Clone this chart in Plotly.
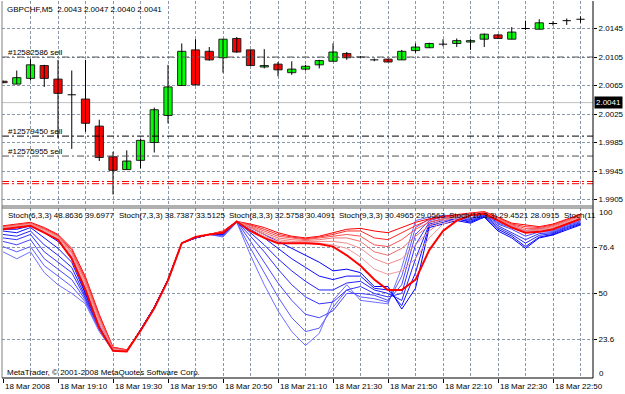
import plotly.graph_objects as go

# ---------------- data ----------------
BARS = list(range(43))
OPEN = [2.0071, 2.0067, 2.0075, 2.0093, 2.0074, 2.0052, 2.0046, 2.0008, 1.9965, 1.9947,
        1.9960, 1.9985, 2.0023, 2.0065, 2.0115, 2.0113, 2.0104, 2.0131, 2.0115, 2.0091,
        2.0095, 2.0083, 2.0088, 2.0094, 2.0099, 2.0110, 2.0105, 2.0101, 2.0102, 2.0101,
        2.0114, 2.0118, 2.0123, 2.0124, 2.0126, 2.0130, 2.0136, 2.0130, 2.0145, 2.0144,
        2.0152, 2.0156, 2.0158]
HIGH = [2.0072, 2.0086, 2.0102, 2.0094, 2.0101, 2.0086, 2.0101, 2.0017, 1.9972, 1.9974,
        1.9990, 2.0034, 2.0094, 2.0124, 2.0130, 2.0119, 2.0130, 2.0133, 2.0115, 2.0116,
        2.0098, 2.0099, 2.0094, 2.0101, 2.0124, 2.0112, 2.0106, 2.0103, 2.0102, 2.0115,
        2.0124, 2.0125, 2.0130, 2.0131, 2.0130, 2.0138, 2.0137, 2.0147, 2.0156, 2.0158,
        2.0155, 2.0159, 2.0162]
LOW = [2.0068, 2.0067, 2.0072, 2.0063, 1.9991, 1.9976, 2.0000, 1.9959, 1.9912, 1.9947,
       1.9949, 1.9971, 2.0012, 2.0065, 2.0065, 2.0100, 2.0083, 2.0111, 2.0093, 2.0089,
       2.0078, 2.0080, 2.0086, 2.0089, 2.0099, 2.0101, 2.0104, 2.0099, 2.0098, 2.0101,
       2.0111, 2.0118, 2.0120, 2.0119, 2.0115, 2.0119, 2.0131, 2.0130, 2.0143, 2.0144,
       2.0149, 2.0150, 2.0153]
CLOSE = [2.0069, 2.0076, 2.0094, 2.0075, 2.0054, 2.0052, 2.0012, 1.9964, 1.9946, 1.9959,
         1.9988, 2.0031, 2.0063, 2.0113, 2.0066, 2.0101, 2.0130, 2.0112, 2.0093, 2.0093,
         2.0087, 2.0088, 2.0092, 2.0100, 2.0112, 2.0104, 2.0105, 2.0101, 2.0098, 2.0113,
         2.0119, 2.0124, 2.0123, 2.0128, 2.0128, 2.0137, 2.0131, 2.0140, 2.0145, 2.0153,
         2.0152, 2.0156, 2.0158]

TIME_TICK_BARS = [0, 4, 8, 12, 16, 20, 24, 28, 32, 36, 40]
TIME_LABELS = ["18 Mar 2008", "18 Mar 19:10", "18 Mar 19:30", "18 Mar 19:50", "18 Mar 20:50",
               "18 Mar 21:10", "18 Mar 21:30", "18 Mar 21:50", "18 Mar 22:10", "18 Mar 22:30",
               "18 Mar 22:50"]
GRID_BARS = list(range(0, 43, 2))

PRICE_TICKS = [2.0145, 2.0105, 2.0065, 2.0025, 1.9985, 1.9945, 1.9905]
PRICE_RANGE = [1.98959, 2.01836]
BID = 2.0041
ORDER_LEVELS = [2.0105, 1.9994, 1.9966]
ORDER_LABELS = ["#12582586 sell", "#12579450 sell", "#12575955 sell"]
ORDER_COLORS = ["#606060", "#000000", "#505050"]
STOP_LEVELS = [1.99303, 1.99272]

TITLE = "GBPCHF,M5\u00a0 2.0043 2.0047 2.0040 2.0041"
STOCH_TITLES = ["Stoch(6,3,3) 48.8636 39.6977", "Stoch(7,3,3) 38.7387 33.5125",
                "Stoch(8,3,3) 32.5758 30.4091", "Stoch(9,3,3) 30.4965 29.0563",
                "Stoch(10,3,3) 29.4521 28.0915", "Stoch(11"]
STOCH_TICKS = [23.6, 50, 76.4]
STOCH_RANGE = [1.27, 99.25]
COPYRIGHT = "MetaTrader, \u00a9 2001-2008 MetaQuotes Software Corp."

# stochastic lines (blue fan: fast -> slow)
BLUE_1 = [74, 70, 74, 62, 55, 50, 44, 28, 17, 16.5, 29, 42, 58, 79, 82, 84, 82.5, 91, 72, 55, 40, 28, 20, 27, 46, 55, 46, 45, 44, 65, 92, 94, 95, 95, 93.5, 97, 91, 89, 86, 87.5, 86.5, 90.4, 92.3]
BLUE_2 = [77, 74, 77, 66, 60, 54, 45, 29, 17, 16.5, 29, 42, 58, 79, 82, 84, 83, 91, 76, 62, 48, 36, 28, 30, 42, 52, 48, 47, 45, 60, 88, 93, 94, 95, 93, 96.5, 90.5, 88, 85, 86.5, 86, 89.8, 91.8]
BLUE_3 = [80, 78, 81, 70, 64, 58, 46, 30, 17.5, 16.5, 29, 42, 58, 79, 82, 84, 83.5, 91.5, 80, 68, 56, 46, 38, 36, 40, 50, 50, 49, 46, 55, 84, 92, 94, 94, 92.5, 96, 90, 87, 83, 85.5, 85.5, 89.2, 91.3]
BLUE_4 = [82, 81, 84, 74, 68, 62, 47, 30, 17.5, 17, 29, 42, 58, 79, 82, 84, 84, 91.5, 83, 74, 64, 55, 48, 44, 45, 52, 54, 50, 48, 50, 78, 91, 93, 94, 92, 95.5, 89, 85, 81, 84.5, 85, 88.5, 90.8]
BLUE_5 = [84, 83, 86, 78, 72, 65, 48, 31, 18, 17, 29, 42, 58, 79, 82, 84, 84, 91.5, 85, 78, 70, 63, 57, 52, 52, 56, 57, 52, 50, 46, 70, 90, 92, 93, 91.5, 95, 88, 84, 79, 83.5, 84.5, 88, 90.3]
BLUE_6 = [86, 85, 88, 82, 76, 68, 49, 31, 18, 17, 29, 42, 58, 79, 82, 84, 84.5, 91.5, 87, 82, 76, 70, 65, 60, 58, 60, 60, 53, 52, 43, 62, 89, 91, 93, 91, 94.5, 87, 83, 77, 82.5, 84, 87.3, 89.9]
BLUE_7 = [87, 87, 89, 85, 80, 71, 50, 32, 18, 17, 29, 42, 58, 79, 82, 84, 84.5, 91.5, 88, 84, 80, 76, 72, 68, 63, 64, 62, 54, 54, 41, 53, 88, 90, 92, 90.5, 94, 86, 82, 76, 82, 83.7, 86.6, 89.5]
# red fan (thick lowest -> highest)
RED_1 = [87, 88, 89, 85, 81, 70, 52, 30, 17, 16.5, 28.5, 41.5, 57.5, 79, 82.5, 84, 85, 91.5, 86, 82, 79, 79, 79, 78.5, 77, 72, 66, 58, 52, 52, 58, 75, 86, 92, 95, 96, 92, 88, 85, 85.5, 87, 90, 93]
RED_2 = [87.5, 88.5, 89.5, 86, 82, 71.5, 53.5, 32, 17.5, 16.5, 28.5, 41.5, 57.5, 79, 82.5, 84, 85, 91.5, 87, 83, 80, 79.5, 79.5, 79, 78, 76, 71, 64, 61, 63, 70, 82, 90, 93, 95.2, 96.2, 92.3, 88.3, 85.5, 86, 87.5, 90.5, 93.5]
RED_3 = [88, 89, 90, 86.5, 82.5, 72.5, 55, 33.5, 18, 17, 28.5, 41.5, 57.5, 79, 82.5, 84, 85.2, 91.5, 88, 84, 81, 80, 80, 80, 80, 79, 76, 70, 67, 70, 78, 86, 92, 94, 95.4, 96.4, 92.6, 88.7, 86, 86.5, 88, 91, 94]
RED_4 = [88, 89, 90, 87, 83, 73.5, 56.5, 35, 18, 17, 28.5, 41.5, 57.5, 79, 82.5, 84, 85.4, 91.5, 88.5, 85, 82, 81, 80.5, 81, 82, 82, 80, 74, 72, 76, 83, 89, 93, 94, 95.6, 96.6, 93, 89.2, 86.5, 87, 88.5, 91.5, 94.5]
RED_5 = [88.5, 89.5, 90.5, 87, 83, 74, 57.5, 36, 18.5, 17, 28.5, 41.5, 57.5, 79, 82.5, 84, 85.6, 91.5, 89, 86, 83, 82, 81, 82, 83, 84, 83, 78, 77, 81, 87, 91, 93, 95, 95.8, 96.8, 93.4, 89.6, 87.5, 87.5, 89, 92, 95]
RED_6 = [88.5, 89.5, 90.5, 87.5, 83.5, 75, 58.5, 37, 19, 17.5, 28.5, 41.5, 57.5, 79, 82.5, 84, 85.8, 91.5, 89.5, 87, 84, 82.5, 81.5, 82.5, 84, 86, 86, 82, 81, 85, 89, 92.5, 94, 95, 96, 97, 93.7, 90, 88.5, 88, 89.5, 92.5, 95.3]
RED_7 = [89, 90, 91, 88, 84, 76, 59.5, 38, 19, 17.5, 28.5, 41.5, 57.5, 79, 82.5, 84, 86, 91.5, 90, 88, 85, 83, 82, 83, 85, 87, 87.5, 86, 85, 88, 91, 93, 94.5, 95.5, 96.2, 97.2, 94, 90.5, 89.5, 88.5, 90, 93, 95.6]

BLUES = [BLUE_1, BLUE_2, BLUE_3, BLUE_4, BLUE_5, BLUE_6, BLUE_7]
REDS = [RED_1, RED_2, RED_3, RED_4, RED_5, RED_6, RED_7]

# ---------------- style ----------------
W, H = 625, 394
ML, MR, MT, MB = 2, 32, 1, 16
PW, PH = W - ML - MR, H - MT - MB
FONT = "Liberation Sans, Arial, sans-serif"
GRID = "#8a97a8"
GRID_DASH = "3px,2px"
BLUE_COLORS = ["#7070ff", "#5a5aff", "#4646ff", "#3232ff", "#2020ff", "#1010ff", "#0000ff"]
RED_COLORS = ["#ff0000", "#f49a9a", "#f08a8a", "#f07070", "#ff5050", "#ff2828", "#ff0000"]
RED_WIDTHS = [2, 1, 1, 1, 1, 1, 1]


def px(x):
    return (x - ML) / PW


def py(y):
    return (H - MB - y) / PH


TOP_DOM = [py(206), 1]
BOT_DOM = [0, py(208)]

fig = go.Figure()

# wicks
wx, wy = [], []
for i in BARS:
    wx += [i, i, None]
    wy += [LOW[i], HIGH[i], None]
fig.add_trace(go.Scatter(x=wx, y=wy, mode="lines", line=dict(color="#000000", width=1),
                         xaxis="x2", yaxis="y", hoverinfo="skip", showlegend=False))

# bodies
for up, col in [(True, "#00ff00"), (False, "#ff0000")]:
    xs, bs, hs = [], [], []
    for i in BARS:
        if OPEN[i] == CLOSE[i]:
            continue
        if (CLOSE[i] > OPEN[i]) == up:
            xs.append(i)
            bs.append(min(OPEN[i], CLOSE[i]))
            hs.append(abs(CLOSE[i] - OPEN[i]))
    fig.add_trace(go.Bar(x=xs, y=hs, base=bs, width=0.6, marker=dict(color=col, line=dict(color="#202020", width=1)),
                         xaxis="x2", yaxis="y", hoverinfo="skip", showlegend=False))

# doji crosses
dx, dy = [], []
for i in BARS:
    if OPEN[i] == CLOSE[i]:
        dx += [i - 0.3, i + 0.3, None]
        dy += [OPEN[i], OPEN[i], None]
fig.add_trace(go.Scatter(x=dx, y=dy, mode="lines", line=dict(color="#000000", width=1),
                         xaxis="x2", yaxis="y", hoverinfo="skip", showlegend=False))

# stochastic lines
for vals, c in zip(BLUES, BLUE_COLORS):
    fig.add_trace(go.Scatter(x=BARS, y=vals, mode="lines", line=dict(color=c, width=1),
                             xaxis="x", yaxis="y2", hoverinfo="skip", showlegend=False))
for vals, c, w in list(zip(REDS, RED_COLORS, RED_WIDTHS))[::-1]:
    fig.add_trace(go.Scatter(x=BARS, y=vals, mode="lines", line=dict(color=c, width=w),
                             xaxis="x", yaxis="y2", hoverinfo="skip", showlegend=False))

shapes = []
# bid line
shapes.append(dict(type="line", xref="paper", yref="y", x0=0, x1=1, y0=BID, y1=BID,
                   line=dict(color="#c0c0c0", width=1), layer="below"))
# order lines
for lvl, c in zip(ORDER_LEVELS, ORDER_COLORS):
    shapes.append(dict(type="line", xref="paper", yref="y", x0=0, x1=1, y0=lvl, y1=lvl,
                       line=dict(color=c, width=1, dash="7px,3px,2px,3px")))
for lvl in STOP_LEVELS:
    shapes.append(dict(type="line", xref="paper", yref="y", x0=0, x1=1, y0=lvl, y1=lvl,
                       line=dict(color="#ff0000", width=1, dash="7px,3px,2px,3px")))
# frame
shapes += [
    dict(type="line", xref="paper", yref="paper", x0=0, x1=0, y0=0, y1=1, line=dict(color="#808080", width=1)),
    dict(type="line", xref="paper", yref="paper", x0=1, x1=1, y0=0, y1=1, line=dict(color="#000000", width=1)),
    dict(type="line", xref="paper", yref="paper", x0=0, x1=1, y0=TOP_DOM[0], y1=TOP_DOM[0], line=dict(color="#606060", width=1)),
    dict(type="line", xref="paper", yref="paper", x0=0, x1=1, y0=BOT_DOM[1], y1=BOT_DOM[1], line=dict(color="#606060", width=1)),
    dict(type="line", xref="paper", yref="paper", x0=0, x1=1, y0=0, y1=0, line=dict(color="#000000", width=1)),
]

ann = []
f8 = dict(family=FONT, size=8, color="#000000")
ann.append(dict(text=TITLE, xref="paper", yref="paper", x=px(5), y=py(9), xanchor="left", yanchor="middle",
                showarrow=False, font=f8))
for lvl, lab in zip(ORDER_LEVELS, ORDER_LABELS):
    ann.append(dict(text=lab, xref="paper", yref="y", x=px(7), y=lvl, xanchor="left", yanchor="bottom",
                    yshift=-1, showarrow=False, font=f8, borderpad=0))
ann.append(dict(text=f"{BID:.4f}", xref="paper", yref="y", x=1, y=BID, xanchor="left", yanchor="middle",
                xshift=1, showarrow=False, bgcolor="#000000", borderpad=1,
                font=dict(family=FONT, size=8, color="#ffffff")))
stoch_x = [6, 116.7, 226.7, 336.7, 446.7, 561.7]
for t, x in zip(STOCH_TITLES, stoch_x):
    ann.append(dict(text=t, xref="paper", yref="paper", x=px(x), y=py(215), xanchor="left", yanchor="middle",
                    showarrow=False, font=f8))
ann.append(dict(text=COPYRIGHT, xref="paper", yref="paper", x=px(5), y=py(372.5), xanchor="left",
                yanchor="middle", showarrow=False, font=f8))
ann.append(dict(text="100", xref="paper", yref="paper", x=px(597), y=py(212), xanchor="left",
                yanchor="middle", showarrow=False, font=f8))
ann.append(dict(text="0", xref="paper", yref="paper", x=px(597), y=py(373.3), xanchor="left",
                yanchor="middle", showarrow=False, font=f8))
for b, lab in zip(TIME_TICK_BARS, TIME_LABELS):
    ann.append(dict(text=lab, xref="x", yref="paper", x=b, y=0, xanchor="left", yanchor="top",
                    xshift=0, yshift=-2, showarrow=False, font=f8))

xr = [-1 / 13.75, (PW - 1) / 13.75]
grid_common = dict(showgrid=True, gridcolor=GRID, griddash=GRID_DASH, gridwidth=1, zeroline=False)

fig.update_layout(
    width=W, height=H, margin=dict(l=ML, r=MR, t=MT, b=MB, pad=0),
    paper_bgcolor="#ffffff", plot_bgcolor="#ffffff", showlegend=False,
    barmode="overlay",
    shapes=shapes, annotations=ann,
    xaxis=dict(domain=[0, 1], anchor="y2", range=xr, tickmode="array", tickvals=TIME_TICK_BARS,
               showticklabels=False, ticks="outside", ticklen=4, tickcolor="#000000",
               minor=dict(tickvals=GRID_BARS, showgrid=True, gridcolor=GRID, griddash=GRID_DASH, ticks=""),
               showline=False, **grid_common),
    xaxis2=dict(domain=[0, 1], anchor="y", matches="x", range=xr, tickmode="array", tickvals=TIME_TICK_BARS,
                showticklabels=False, ticks="",
                minor=dict(tickvals=GRID_BARS, showgrid=True, gridcolor=GRID, griddash=GRID_DASH, ticks=""),
                showline=False, **grid_common),
    yaxis=dict(domain=TOP_DOM, anchor="x2", side="right", range=PRICE_RANGE, tickmode="array",
               tickvals=PRICE_TICKS, ticktext=[f"{v:.4f}" for v in PRICE_TICKS],
               ticks="outside", ticklen=3, tickcolor="#000000", tickfont=f8, showline=False, **grid_common),
    yaxis2=dict(domain=BOT_DOM, anchor="x", side="right", range=STOCH_RANGE, tickmode="array",
                tickvals=STOCH_TICKS, ticktext=["23.6", "50", "76.4"],
                ticks="outside", ticklen=3, tickcolor="#000000", tickfont=f8, showline=False, **grid_common),
)

fig.write_html("out.html", config={"displayModeBar": False})
